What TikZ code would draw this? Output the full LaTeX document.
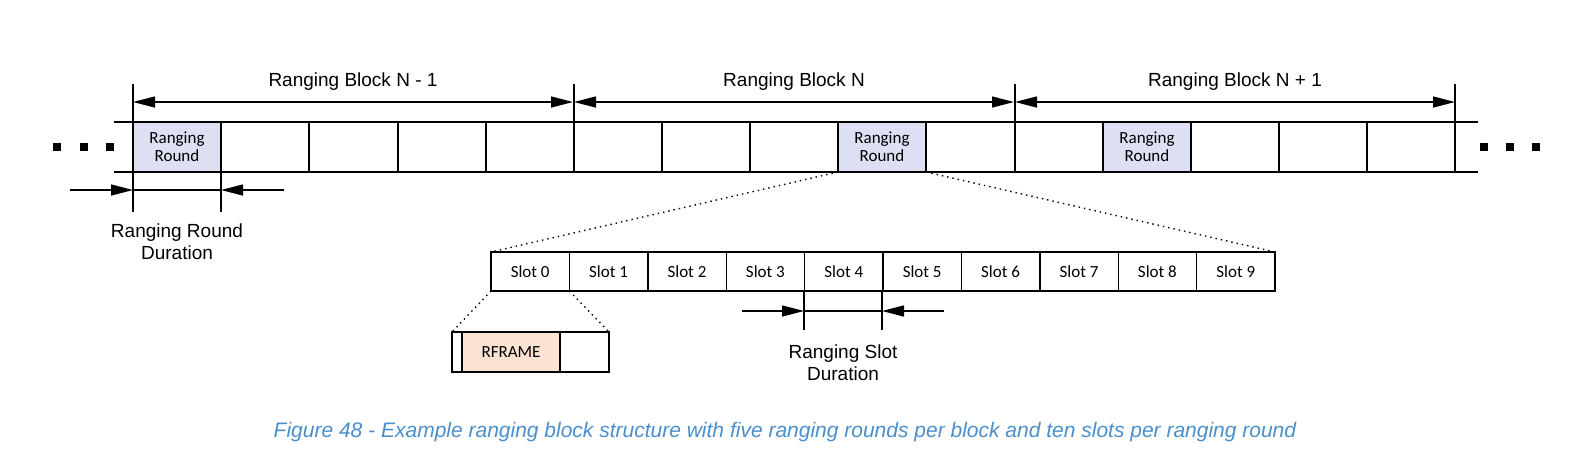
\documentclass[tikz,border=0pt]{standalone}
\usepackage{fontspec}
\setmainfont{Liberation Sans}
\newfontfamily\calfont{Carlito}
\usetikzlibrary{arrows.meta}
\definecolor{rr}{HTML}{DCE0F2}
\definecolor{rf}{HTML}{FBE2D3}
\definecolor{cap}{HTML}{4A8FCB}
\tikzset{x=0.5pt,y=-0.5pt,
 ln/.style={line width=0.7pt},
 dim/.style={line width=0.7pt,-{Triangle[length=11pt,width=5.5pt]}},
 ddim/.style={line width=0.7pt,{Triangle[length=11pt,width=5.5pt]}-{Triangle[length=11pt,width=5.5pt]}},
 dot/.style={line width=0.7pt,dotted},
 lbl/.style={font=\fontsize{9.5}{11}\selectfont,align=center},
 cl/.style={font=\calfont\fontsize{8.5}{10}\selectfont,align=center}}
\begin{document}
\begin{tikzpicture}
\useasboundingbox (0,0) rectangle (1569,468);
% fills
\foreach \a in {133,838,1103}{\fill[rr] (\a,122) rectangle ++(88,50);}
\fill[rf] (462,332) rectangle (560,372);
% main bar
\draw[ln] (114,122) -- (1478,122) (114,172) -- (1478,172);
\foreach \a in {221,309,398,486,662,750,838,926,1103,1191,1279,1367}{\draw[ln] (\a,122) -- (\a,172);}
\foreach \a in {133,574,1015,1455}{\draw[ln] (\a,84) -- (\a,172);}
\draw[ln] (133,172) -- (133,212) (221,172) -- (221,212);
\foreach \a/\t in {133/Ranging Block N - 1,574/Ranging Block N,1015/Ranging Block N + 1}{
 \coordinate (L\a) at (\a,102); \coordinate (R\a) at (\a+440,102);
 \draw[ddim] (L\a) -- (R\a);
 \node[lbl] at (\a+220,82) {\t};}
\foreach \a in {133,838,1103}{\node[cl] at (\a+44,147) {Ranging\\[-1pt]Round};}
\foreach \x in {57,84,110}{\fill (\x-4,143) rectangle (\x+4,151);}
\foreach \x in {1484,1510,1536}{\fill (\x-4,143) rectangle (\x+4,151);}
% round duration
\coordinate (a1) at (70,190); \coordinate (a2) at (133,190);
\coordinate (b1) at (284,190); \coordinate (b2) at (221,190);
\draw[dim] (a1) -- (a2); \draw[dim] (b1) -- (b2); \draw[ln] (a2) -- (b2);
\node[lbl] at (177,242) {Ranging Round\\Duration};
% slots
\foreach \i in {0,...,9}{\draw[ln] (491+78.4*\i,252) rectangle ++(78.4,39);
 \node[cl] at (491+78.4*\i+39.2,271.5) {Slot \i};}
\draw[dot] (838,172) -- (491,252) (926,172) -- (1275,252);
% rframe
\draw[ln] (452,332) rectangle (609,372) (462,332) -- (462,372) (560,332) -- (560,372);
\node[cl] at (511,352) {RFRAME};
\draw[dot] (491,291) -- (452,332) (569.4,291) -- (609,332);
% slot duration
\draw[ln] (804,291) -- (804,330) (882,291) -- (882,330);
\coordinate (c1) at (742,311); \coordinate (c2) at (804,311);
\coordinate (d1) at (944,311); \coordinate (d2) at (882,311);
\draw[dim] (c1) -- (c2); \draw[dim] (d1) -- (d2); \draw[ln] (c2) -- (d2);
\node[lbl] at (843,363) {Ranging Slot\\Duration};
\node[font=\itshape\fontsize{10.5}{12}\selectfont,text=cap] at (785,432) {Figure 48 - Example ranging block structure with five ranging rounds per block and ten slots per ranging round};
\end{tikzpicture}
\end{document}
